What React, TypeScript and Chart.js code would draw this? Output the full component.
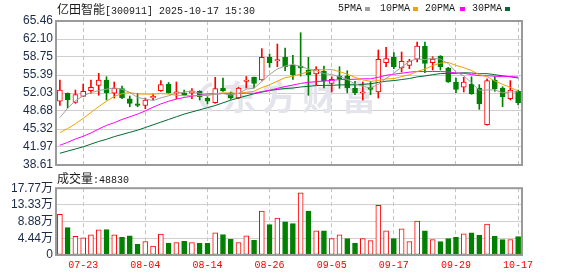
import React, { useEffect, useRef } from 'react';
import { Chart, registerables } from 'chart.js';

Chart.register(...registerables);

const dates = ['07-18','07-21','07-22','07-23','07-24','07-25','07-28','07-29','07-30','07-31','08-01','08-04','08-05','08-06','08-07','08-08','08-11','08-12','08-13','08-14','08-15','08-18','08-19','08-20','08-21','08-22','08-25','08-26','08-27','08-28','08-29','09-01','09-02','09-03','09-04','09-05','09-08','09-09','09-10','09-11','09-12','09-15','09-16','09-17','09-18','09-19','09-22','09-23','09-24','09-25','09-26','09-29','09-30','10-09','10-10','10-13','10-14','10-15','10-16','10-17'];
const axisDates = ['07-23','08-04','08-14','08-26','09-05','09-17','09-29','10-17'];

const opens = [50.49,51.98,50.30,51.42,52.46,53.47,54.46,51.98,52.84,50.97,49.98,49.74,51.10,52.46,53.71,51.98,52.09,51.98,52.35,51.10,50.23,52.97,52.09,51.10,54.18,54.96,54.46,58.69,58.00,58.69,57.20,57.07,56.32,55.58,56.08,53.84,55.20,55.20,52.97,51.98,53.10,52.22,57.68,58.69,56.70,57.20,58.32,60.80,57.68,58.93,56.70,54.09,53.10,53.71,52.97,46.12,54.46,52.97,50.97,52.35];
const highs = [54.46,52.05,52.59,53.71,54.46,55.71,55.07,54.09,53.34,51.48,51.98,51.10,51.85,54.34,54.00,54.09,52.59,52.84,52.46,51.35,54.96,54.83,52.22,53.10,55.11,55.00,60.30,59.31,61.17,60.43,59.06,63.28,58.69,56.94,57.07,55.07,56.94,56.19,54.22,54.09,54.22,60.05,60.56,59.55,59.68,58.32,61.54,61.54,58.80,59.00,56.83,54.83,54.96,55.07,53.59,54.70,55.07,53.21,54.34,52.59];
const lows = [49.74,49.24,50.11,51.40,51.98,51.61,50.73,51.10,50.97,49.48,49.48,49.11,50.73,52.35,51.98,50.97,51.48,50.97,50.73,49.98,50.11,52.35,50.86,50.97,52.97,52.97,54.40,56.83,56.94,56.19,54.59,55.20,51.61,53.58,52.97,52.22,52.91,52.09,51.72,50.73,51.72,51.10,56.94,56.57,55.95,56.57,57.81,55.82,56.32,56.32,54.00,52.09,52.22,51.80,48.99,46.05,52.35,49.48,50.73,49.86];
const closes = [52.59,50.78,51.72,52.35,53.10,54.46,52.09,52.97,51.10,50.11,49.74,50.73,51.42,53.59,52.09,52.22,51.72,52.46,51.35,50.49,52.84,52.46,51.10,52.97,54.27,53.84,58.69,57.68,58.09,56.94,55.45,56.70,55.45,56.45,54.22,54.59,54.65,52.97,52.09,52.22,52.72,58.32,58.43,56.94,57.95,58.00,60.80,57.57,58.37,56.94,54.09,52.72,54.09,51.85,49.98,54.34,52.84,51.35,52.59,50.23];
const volumes = [108500,72900,49400,46000,53800,66800,67700,53800,46800,51200,
  28600,35600,23400,55500,31200,32900,36400,32900,31200,31200,
  59000,54600,41600,32900,51200,39000,117100,80700,98000,88500,
  83300,165700,117100,64200,64200,43400,53800,43400,31200,43400,
  38200,131900,64200,43400,69400,35600,90200,64200,40800,35600,
  43400,46800,56400,59000,52000,82400,49400,40800,40800,48830];

const ma5Lead = [47.43, 49.2, 50.6, 51.5];
const ma10Lead = [44.65, 45.4, 46.3, 47.3, 48.4, 49.5, 50.5, 51.4, 51.9];
const ma20Lead = [42.28, 42.84, 43.46, 43.96, 44.58, 45.32, 46.0, 46.5, 47.1, 47.6, 48.1, 48.7, 49.4, 50.0, 50.5, 50.9, 51.2, 51.45, 51.65];
const ma30Lead = [40.8, 41.2, 41.6, 42.0, 42.5, 43.0, 43.4, 43.9, 44.3, 44.7, 45.1, 45.6, 46.1, 46.6, 47.1, 47.6, 48.1, 48.5, 48.9, 49.3, 49.7, 50.2, 50.7, 51.1, 51.5, 51.9, 52.2, 52.5, 52.7];

const priceTicks = [38.61, 41.97, 45.32, 48.68, 52.03, 55.39, 58.75, 62.10, 65.46];
const volTicks = [0, 44400, 88800, 133300, 177700];
const volTickLabels = ['0', '4.44万', '8.88万', '13.33万', '17.77万'];

const maNames = ['5PMA', '10PMA', '20PMA', '30PMA'];
const maColors = ['#a0a0a0', '#f2a100', '#ff00ff', '#006b2e'];

const RED = '#ff0000';
const GREEN = '#008000';
const LABEL = '#1b2a47';

function movingAvg(n: number, lead: number[]) {
  return closes.map((_, i) => {
    if (i < n - 1) return lead[i];
    let s = 0;
    for (let k = i - n + 1; k <= i; k++) s += closes[k];
    return s / n;
  });
}

const framePlugin = {
  id: 'frame',
  afterDatasetsDraw(chart: any) {
    const { ctx, chartArea: a } = chart;
    ctx.save();
    ctx.strokeStyle = '#9a9a9a';
    ctx.lineWidth = 2;
    ctx.strokeRect(a.left, a.top, a.right - a.left, a.bottom - a.top);
    ctx.restore();
  },
};

const watermarkPlugin = {
  id: 'watermark',
  beforeDatasetsDraw(chart: any) {
    const { ctx } = chart;
    ctx.save();
    ctx.fillStyle = '#e4e4ec';
    ctx.strokeStyle = '#e4e4ec';
    ctx.lineWidth = 4;
    ctx.beginPath();
    ctx.arc(214, 97, 13, Math.PI * 0.55, Math.PI * 1.45);
    ctx.stroke();
    ctx.font = 'bold 34px "Noto Sans CJK SC"';
    ctx.textBaseline = 'middle';
    (ctx as any).letterSpacing = '6px';
    ctx.fillText('东方财富', 222, 97);
    ctx.restore();
  },
};

const isAxisDate = (i: number) => axisDates.includes(dates[i]);

export default function App() {
  const priceRef = useRef<HTMLCanvasElement>(null);
  const volRef = useRef<HTMLCanvasElement>(null);

  useEffect(() => {
    const up = closes.map((c, i) => c >= opens[i]);
    const volUp = closes.map((c, i) => (i === 0 ? c >= opens[0] : c >= closes[i - 1]));
    const mas = [movingAvg(5, ma5Lead), movingAvg(10, ma10Lead), movingAvg(20, ma20Lead), movingAvg(30, ma30Lead)];

    const xGrid = {
      offset: false,
      drawTicks: false,
      lineWidth: 1,
      color: (c: any) => (isAxisDate(c.index) ? '#c4c4c4' : 'rgba(0,0,0,0)'),
    };

    const price = new Chart(priceRef.current as HTMLCanvasElement, {
      type: 'bar',
      data: {
        labels: dates,
        datasets: [
          ...mas.map((m, k) => ({
            type: 'line' as const,
            data: m,
            borderColor: maColors[k],
            borderWidth: 1,
            pointRadius: 0,
            tension: 0,
            fill: false,
            order: 0,
          })),
          {
            type: 'bar' as const,
            data: opens.map((o, i) => [o, closes[i]]),
            backgroundColor: up.map((u) => (u ? '#ffffff' : GREEN)),
            borderColor: up.map((u) => (u ? RED : GREEN)),
            borderWidth: 1,
            borderSkipped: false,
            barThickness: 5,
            minBarLength: 1.5,
            grouped: false,
            order: 1,
          },
          {
            type: 'bar' as const,
            data: lows.map((l, i) => [l, highs[i]]),
            backgroundColor: up.map((u) => (u ? RED : GREEN)),
            borderWidth: 0,
            barThickness: 1,
            grouped: false,
            order: 2,
          },
        ] as any,
      },
      options: {
        responsive: false,
        animation: false,
        events: [],
        layout: { padding: { top: 21, right: 56, bottom: 13, left: 0 } },
        plugins: { legend: { display: false }, tooltip: { enabled: false } },
        scales: {
          x: {
            type: 'category',
            offset: true,
            ticks: { display: false, autoSkip: false },
            grid: xGrid as any,
            border: { display: false, dash: [4, 3] },
            afterFit: (s: any) => { s.height = 0; },
          },
          y: {
            type: 'linear',
            position: 'left',
            min: priceTicks[0],
            max: priceTicks[priceTicks.length - 1],
            afterBuildTicks: (s: any) => { s.ticks = priceTicks.map((v) => ({ value: v })); },
            afterFit: (s: any) => { s.width = 56; },
            ticks: {
              autoSkip: false,
              callback: (v: any) => Number(v).toFixed(2),
              color: LABEL,
              font: { family: '"Liberation Sans", Arial, sans-serif', size: 12 },
              padding: 3,
            },
            grid: { color: '#cfcfcf', lineWidth: 1, drawTicks: false },
            border: { display: false },
          },
        },
      } as any,
      plugins: [watermarkPlugin, framePlugin],
    });

    const vol = new Chart(volRef.current as HTMLCanvasElement, {
      type: 'bar',
      data: {
        labels: dates,
        datasets: [
          {
            data: volumes,
            backgroundColor: volUp.map((u) => (u ? '#ffffff' : GREEN)),
            borderColor: volUp.map((u) => (u ? RED : GREEN)),
            borderWidth: 1,
            borderSkipped: false,
            barThickness: 5,
            grouped: false,
          },
        ],
      },
      options: {
        responsive: false,
        animation: false,
        events: [],
        layout: { padding: { top: 8.7, right: 56, bottom: 0, left: 0 } },
        plugins: { legend: { display: false }, tooltip: { enabled: false } },
        scales: {
          x: {
            type: 'category',
            offset: true,
            ticks: {
              autoSkip: false,
              maxRotation: 0,
              minRotation: 0,
              padding: 4,
              color: RED,
              font: { family: '"Liberation Mono", monospace', size: 10 },
              callback: (_v: any, i: number) => (isAxisDate(i) ? dates[i] : ''),
            },
            grid: xGrid as any,
            border: { display: false, dash: [4, 3] },
            afterFit: (s: any) => { s.height = 21; },
          },
          y: {
            type: 'linear',
            position: 'left',
            min: 0,
            max: volTicks[volTicks.length - 1],
            afterBuildTicks: (s: any) => { s.ticks = volTicks.map((v) => ({ value: v })); },
            afterFit: (s: any) => { s.width = 56; },
            ticks: {
              autoSkip: false,
              callback: (_v: any, i: number) => volTickLabels[i],
              color: LABEL,
              font: { family: '"Liberation Sans", "Noto Sans CJK SC", sans-serif', size: 12 },
              padding: 3,
            },
            grid: { color: '#cfcfcf', lineWidth: 1, drawTicks: false },
            border: { display: false },
          },
        },
      } as any,
      plugins: [framePlugin],
    });

    return () => {
      price.destroy();
      vol.destroy();
    };
  }, []);

  const cjk = { fontFamily: '"Noto Sans CJK SC", sans-serif', fontSize: 12 };
  const mono = { fontFamily: '"Liberation Mono", monospace', fontSize: 10 };
  const legendX = [338, 380, 425, 472];
  const squareX = [365, 413, 460, 505];

  return (
    <div style={{ position: 'absolute', left: 0, top: 0, width: 578, height: 276, background: '#ffffff', overflow: 'hidden' }}>
      <canvas ref={priceRef} width={578} height={178} style={{ position: 'absolute', left: 0, top: 0 }} />
      <canvas ref={volRef} width={578} height={98} style={{ position: 'absolute', left: 0, top: 178 }} />
      <div style={{ position: 'absolute', left: 57, top: 2, lineHeight: '13px', color: '#1a1a1a', whiteSpace: 'nowrap' }}>
        <span style={cjk}>亿田智能</span><span style={mono}>[300911] 2025-10-17 15:30</span>
      </div>
      {maNames.map((n, k) => (
        <React.Fragment key={n}>
          <div style={{ ...mono, position: 'absolute', left: legendX[k], top: 2, lineHeight: '13px', color: '#1a1a1a', whiteSpace: 'nowrap' }}>{n}</div>
          <div style={{ position: 'absolute', left: squareX[k], top: 7, width: 5, height: 4, background: maColors[k] }} />
        </React.Fragment>
      ))}
      <div style={{ position: 'absolute', left: 57, top: 171, lineHeight: '13px', color: '#1a1a1a', whiteSpace: 'nowrap' }}>
        <span style={cjk}>成交量</span><span style={mono}>:{volumes[volumes.length - 1]}</span>
      </div>
    </div>
  );
}
